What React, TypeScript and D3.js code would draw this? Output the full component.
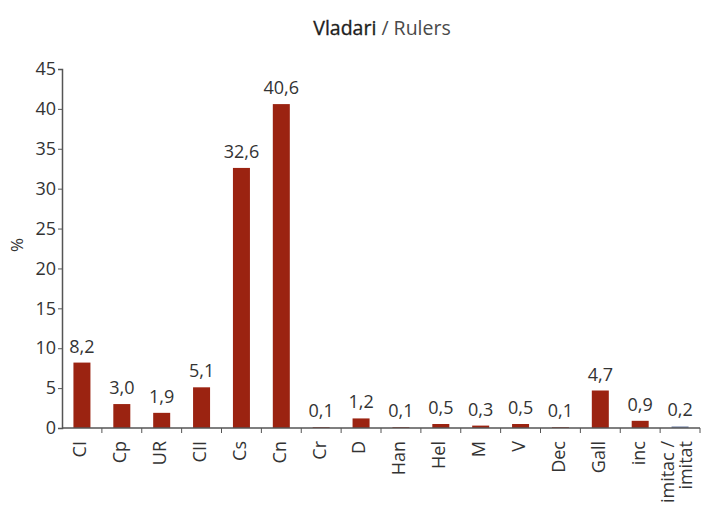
import React, { useEffect, useRef } from "react";
import * as d3 from "d3";

const categories = ["CI", "Cp", "UR", "CII", "Cs", "Cn", "Cr", "D", "Han", "Hel", "M", "V", "Dec", "Gall", "inc", "imitac / imitat"];
const values = [8.2, 3.0, 1.9, 5.1, 32.6, 40.6, 0.1, 1.2, 0.1, 0.5, 0.3, 0.5, 0.1, 4.7, 0.9, 0.2];
const yTicks = [0, 5, 10, 15, 20, 25, 30, 35, 40, 45];

const FONT = "'Open Sans', 'Noto Sans', sans-serif";

const App = () => {
    const ref = useRef<SVGSVGElement>(null);

    useEffect(() => {
        const svg = d3.select(ref.current);
        svg.selectAll("*").remove();

        const dims = { width: 701, height: 505, left: 62, right: 700, top: 69, bottom: 428 };

        const xScale = d3.scaleBand()
            .domain(categories)
            .range([dims.left, dims.right]);

        const yScale = d3.scaleLinear()
            .domain([0, 45])
            .range([dims.bottom, dims.top]);

        // title
        const title = svg.append("text")
            .attr("x", 382)
            .attr("y", 35)
            .attr("text-anchor", "middle")
            .style("font-family", FONT)
            .style("font-size", "19.5px")
            .attr("fill", "#333");
        title.append("tspan").attr("fill", "#1e1e1e").attr("stroke", "#1e1e1e").attr("stroke-width", 0.35).text("Vladari");
        title.append("tspan").attr("fill", "#4a4a4a").text(" / Rulers");

        // y axis
        const yAxis = svg.append("g")
            .attr("transform", `translate(${dims.left},0)`)
            .call(d3.axisLeft(yScale).tickValues(yTicks).tickSize(4).tickPadding(2).tickFormat(d3.format("d")));
        yAxis.select(".domain").attr("stroke", "#555").attr("stroke-width", 1.5);
        yAxis.selectAll(".tick line").attr("stroke", "#555");
        yAxis.selectAll("text")
            .style("font-family", FONT)
            .style("font-size", "18px")
            .attr("fill", "#333");

        svg.append("text")
            .attr("transform", `translate(23,245) rotate(-90)`)
            .attr("text-anchor", "middle")
            .style("font-family", FONT)
            .style("font-size", "17px")
            .attr("fill", "#333")
            .text("%");

        // bars
        const barW = 17;
        svg.append("g")
            .selectAll("rect")
            .data(values)
            .join("rect")
            .attr("x", (d, i) => xScale(categories[i])! + xScale.bandwidth() / 2 - barW / 2)
            .attr("y", d => yScale(d))
            .attr("width", barW)
            .attr("height", d => dims.bottom - yScale(d))
            .attr("fill", (d, i) => i === categories.length - 1 ? "#7d8cae" : "#9b2311");

        // value labels
        const fmt = (v: number) => d3.format(".1f")(v).replace(".", ",");
        svg.append("g")
            .selectAll("text")
            .data(values)
            .join("text")
            .attr("x", (d, i) => xScale(categories[i])! + xScale.bandwidth() / 2)
            .attr("y", d => yScale(d) - 10)
            .attr("text-anchor", "middle")
            .style("font-family", FONT)
            .style("font-size", "18px")
            .attr("fill", "#333")
            .text(d => fmt(d));

        // x axis
        const xAxis = svg.append("g").attr("transform", `translate(0,${dims.bottom})`);
        xAxis.append("line")
            .attr("x1", dims.left)
            .attr("x2", dims.right)
            .attr("stroke", "#555")
            .attr("stroke-width", 1.5);
        xAxis.selectAll("line.tick")
            .data(d3.range(1, categories.length + 1))
            .join("line")
            .attr("class", "tick")
            .attr("x1", i => dims.left + i * xScale.step())
            .attr("x2", i => dims.left + i * xScale.step())
            .attr("y1", 0)
            .attr("y2", 5)
            .attr("stroke", "#555");

        xAxis.selectAll("text")
            .data(categories)
            .join("text")
            .attr("transform", d => `translate(${xScale(d)! + xScale.bandwidth() / 2 - 2},13) rotate(-90)`)
            .attr("text-anchor", "end")
            .style("font-family", FONT)
            .style("font-size", "18px")
            .attr("fill", "#333")
            .each(function (d) {
                const t = d3.select(this);
                const parts = d.split(" / ");
                if (parts.length === 1) {
                    t.append("tspan").attr("dy", "0.35em").text(d);
                } else {
                    t.append("tspan").attr("x", 0).attr("dy", "-0.2em").text(parts[0] + " /");
                    t.append("tspan").attr("x", 0).attr("dy", "0.95em").text(parts[1]);
                }
            });
    }, []);

    return (
        <svg ref={ref} width={701} height={505} style={{ position: "absolute", left: 0, top: 0, background: "#fff" }} />
    );
};

export default App;
